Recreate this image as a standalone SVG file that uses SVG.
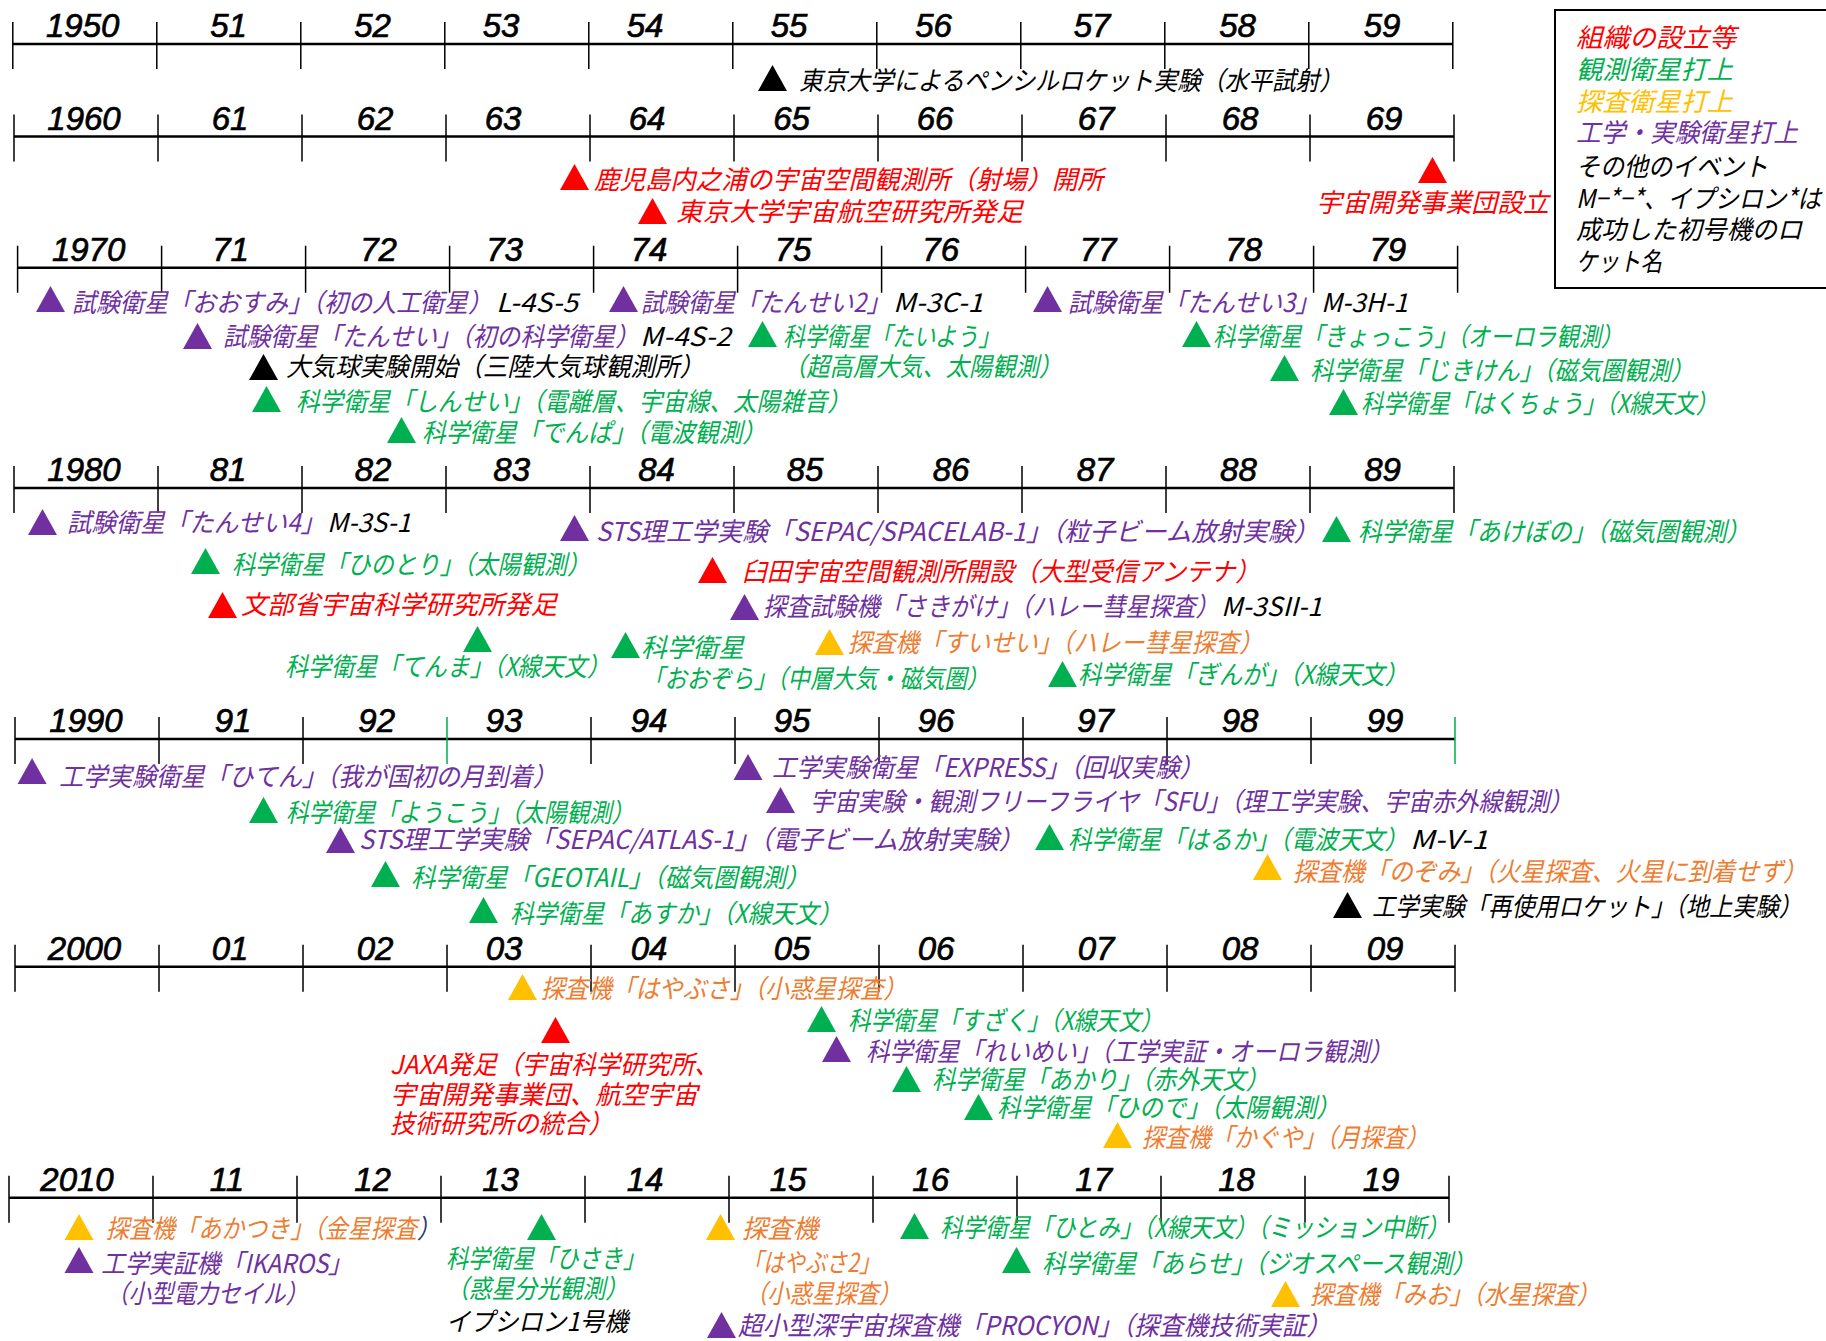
<svg xmlns="http://www.w3.org/2000/svg" xmlns:xlink="http://www.w3.org/1999/xlink" width="1826" height="1341" viewBox="0 0 1826 1341">
<style>
.yr{font-family:"Liberation Sans",Arial,sans-serif;font-style:italic;font-size:33px;text-anchor:middle;fill:#000;stroke:#000;stroke-width:0.7px}
.jp{font-family:"Noto Sans CJK JP","Noto Sans CJK SC",sans-serif;font-style:italic;font-size:26px}
.r{fill:#FF0000}.g{fill:#00B050}.o{fill:#ED7D31}.y{fill:#FFC000}.p{fill:#7030A0}.k{fill:#000}
.axis{stroke:#000;stroke-width:2.5}
.tick{stroke:#000;stroke-width:1.5}
.gt{stroke:#00B050;stroke-width:1.5}
</style>
<defs>
<path id="tri" d="M0 0L14.5 -26L29 0Z"/>
</defs>
<rect x="0" y="0" width="1826" height="1341" fill="#fff"/>

<g id="axes">
<line class="axis" x1="12.8" y1="44" x2="1452.8" y2="44"/>
<line class="axis" x1="14" y1="136.5" x2="1454" y2="136.5"/>
<line class="axis" x1="17.6" y1="267.7" x2="1457.6" y2="267.7"/>
<line class="axis" x1="14" y1="488" x2="1454" y2="488"/>
<line class="axis" x1="15" y1="739" x2="1455" y2="739"/>
<line class="axis" x1="15" y1="966.7" x2="1455" y2="966.7"/>
<line class="axis" x1="9" y1="1197.7" x2="1449" y2="1197.7"/>
</g>

<g id="row1950">
<path class="tick" d="M12.8 22v47M156.8 22v47M300.8 22v47M444.8 22v47M588.8 22v47M732.8 22v47M876.8 22v47M1020.8 22v47M1164.8 22v47M1308.8 22v47M1452.8 22v47"/>
<text class="yr" x="82.7" y="37">1950</text><text class="yr" x="228.5" y="37">51</text><text class="yr" x="372.6" y="37">52</text><text class="yr" x="501" y="37">53</text><text class="yr" x="645" y="37">54</text><text class="yr" x="789" y="37">55</text><text class="yr" x="933.5" y="37">56</text><text class="yr" x="1092" y="37">57</text><text class="yr" x="1237.5" y="37">58</text><text class="yr" x="1382" y="37">59</text>
</g>
<g id="row1960">
<path class="tick" d="M14 114.5v47M158 114.5v47M302 114.5v47M446 114.5v47M590 114.5v47M734 114.5v47M878 114.5v47M1022 114.5v47M1166 114.5v47M1310 114.5v47M1454 114.5v47"/>
<text class="yr" x="84" y="129.5">1960</text><text class="yr" x="230" y="129.5">61</text><text class="yr" x="375" y="129.5">62</text><text class="yr" x="503" y="129.5">63</text><text class="yr" x="647" y="129.5">64</text><text class="yr" x="791.5" y="129.5">65</text><text class="yr" x="935" y="129.5">66</text><text class="yr" x="1096" y="129.5">67</text><text class="yr" x="1240" y="129.5">68</text><text class="yr" x="1384" y="129.5">69</text>
</g>
<g id="row1970">
<path class="tick" d="M17.6 245.7v47M161.6 245.7v47M305.6 245.7v47M449.6 245.7v47M593.6 245.7v47M737.6 245.7v47M881.6 245.7v47M1025.6 245.7v47M1169.6 245.7v47M1313.6 245.7v47M1457.6 245.7v47"/>
<text class="yr" x="88.6" y="260.5">1970</text><text class="yr" x="230.6" y="260.5">71</text><text class="yr" x="378.5" y="260.5">72</text><text class="yr" x="504.6" y="260.5">73</text><text class="yr" x="649" y="260.5">74</text><text class="yr" x="793" y="260.5">75</text><text class="yr" x="940.7" y="260.5">76</text><text class="yr" x="1098" y="260.5">77</text><text class="yr" x="1243.7" y="260.5">78</text><text class="yr" x="1387.8" y="260.5">79</text>
</g>
<g id="row1980">
<path class="tick" d="M14 466v47M158 466v47M302 466v47M446 466v47M590 466v47M734 466v47M878 466v47M1022 466v47M1166 466v47M1310 466v47M1454 466v47"/>
<text class="yr" x="84" y="481">1980</text><text class="yr" x="228" y="481">81</text><text class="yr" x="373" y="481">82</text><text class="yr" x="511.7" y="481">83</text><text class="yr" x="656.6" y="481">84</text><text class="yr" x="805" y="481">85</text><text class="yr" x="951" y="481">86</text><text class="yr" x="1095" y="481">87</text><text class="yr" x="1238.4" y="481">88</text><text class="yr" x="1382.5" y="481">89</text>
</g>
<g id="row1990">
<path class="tick" d="M15 717v47M159 717v47M303 717v47M591 717v47M735 717v47M879 717v47M1023 717v47M1167 717v47M1311 717v47"/>
<path class="gt" d="M447 717v47M1455 717v47"/>
<text class="yr" x="86" y="732">1990</text><text class="yr" x="233" y="732">91</text><text class="yr" x="376.7" y="732">92</text><text class="yr" x="504" y="732">93</text><text class="yr" x="649" y="732">94</text><text class="yr" x="792" y="732">95</text><text class="yr" x="936" y="732">96</text><text class="yr" x="1095.5" y="732">97</text><text class="yr" x="1240" y="732">98</text><text class="yr" x="1385" y="732">99</text>
</g>
<g id="row2000">
<path class="tick" d="M15 944.7v47M159 944.7v47M303 944.7v47M447 944.7v47M591 944.7v47M735 944.7v47M879 944.7v47M1023 944.7v47M1167 944.7v47M1311 944.7v47M1455 944.7v47"/>
<text class="yr" x="84.5" y="959.5">2000</text><text class="yr" x="230" y="959.5">01</text><text class="yr" x="375" y="959.5">02</text><text class="yr" x="504" y="959.5">03</text><text class="yr" x="649" y="959.5">04</text><text class="yr" x="792" y="959.5">05</text><text class="yr" x="936" y="959.5">06</text><text class="yr" x="1096" y="959.5">07</text><text class="yr" x="1240" y="959.5">08</text><text class="yr" x="1385" y="959.5">09</text>
</g>
<g id="row2010">
<path class="tick" d="M9 1175.7v47M153 1175.7v47M297 1175.7v47M441 1175.7v47M585 1175.7v47M729 1175.7v47M873 1175.7v47M1017 1175.7v47M1161 1175.7v47M1305 1175.7v47M1449 1175.7v47"/>
<text class="yr" x="77" y="1190.5">2010</text><text class="yr" x="227" y="1190.5">11</text><text class="yr" x="372.6" y="1190.5">12</text><text class="yr" x="500.5" y="1190.5">13</text><text class="yr" x="645" y="1190.5">14</text><text class="yr" x="788" y="1190.5">15</text><text class="yr" x="930.7" y="1190.5">16</text><text class="yr" x="1093.7" y="1190.5">17</text><text class="yr" x="1236.6" y="1190.5">18</text><text class="yr" x="1381" y="1190.5">19</text>
</g>

<g id="legend">
<rect x="1555" y="10" width="290" height="278" fill="#fff" stroke="#000" stroke-width="2"/>
<text class="jp r" x="1576" y="47" textLength="160" lengthAdjust="spacingAndGlyphs">組織の設立等</text>
<text class="jp g" x="1576" y="79" textLength="157" lengthAdjust="spacingAndGlyphs">観測衛星打上</text>
<text class="jp y" x="1576" y="111" textLength="157" lengthAdjust="spacingAndGlyphs">探査衛星打上</text>
<text class="jp p" x="1576" y="142" textLength="222" lengthAdjust="spacingAndGlyphs">工学・実験衛星打上</text>
<text class="jp k" x="1576" y="176" textLength="192" lengthAdjust="spacingAndGlyphs">その他のイベント</text>
<text class="jp k" x="1576" y="207.5" textLength="245" lengthAdjust="spacingAndGlyphs">M−*−*、イプシロン*は</text>
<text class="jp k" x="1576" y="239" textLength="226" lengthAdjust="spacingAndGlyphs">成功した初号機のロ</text>
<text class="jp k" x="1576" y="271" textLength="86" lengthAdjust="spacingAndGlyphs">ケット名</text>
</g>

<g id="ev-pencil"><use href="#tri" x="758" y="91" class="k"/><text class="jp k" x="799" y="89.5" textLength="544" lengthAdjust="spacingAndGlyphs">東京大学によるペンシルロケット実験（水平試射）</text></g>
<g id="ev-uchinoura"><use href="#tri" x="560" y="190" class="r"/><text class="jp r" x="594" y="188.5" textLength="509" lengthAdjust="spacingAndGlyphs">鹿児島内之浦の宇宙空間観測所（射場）開所</text></g>
<g id="ev-isas-tokyo"><use href="#tri" x="638" y="224" class="r"/><text class="jp r" x="676" y="221" textLength="347" lengthAdjust="spacingAndGlyphs">東京大学宇宙航空研究所発足</text></g>
<g id="ev-nasda"><use href="#tri" x="1418" y="183" class="r"/><text class="jp r" x="1316" y="212" textLength="233" lengthAdjust="spacingAndGlyphs">宇宙開発事業団設立</text></g>

<g id="ev-ohsumi"><use href="#tri" x="36" y="312" class="p"/><text class="jp p" x="72" y="312" textLength="420" lengthAdjust="spacingAndGlyphs">試験衛星「おおすみ」（初の人工衛星）</text><text class="jp k" x="496" y="312" textLength="82" lengthAdjust="spacingAndGlyphs">L-4S-5</text></g>
<g id="ev-tansei2"><use href="#tri" x="609" y="312" class="p"/><text class="jp p" x="641" y="312" textLength="249" lengthAdjust="spacingAndGlyphs">試験衛星「たんせい2」</text><text class="jp k" x="893" y="312" textLength="90" lengthAdjust="spacingAndGlyphs">M-3C-1</text></g>
<g id="ev-tansei3"><use href="#tri" x="1033" y="312" class="p"/><text class="jp p" x="1068" y="312" textLength="251" lengthAdjust="spacingAndGlyphs">試験衛星「たんせい3」</text><text class="jp k" x="1321" y="312" textLength="87" lengthAdjust="spacingAndGlyphs">M-3H-1</text></g>
<g id="ev-tansei"><use href="#tri" x="183" y="349" class="p"/><text class="jp p" x="223" y="346" textLength="416" lengthAdjust="spacingAndGlyphs">試験衛星「たんせい」（初の科学衛星）</text><text class="jp k" x="640" y="346" textLength="91" lengthAdjust="spacingAndGlyphs">M-4S-2</text></g>
<g id="ev-taiyo"><use href="#tri" x="748" y="347" class="g"/><text class="jp g" x="783" y="346" textLength="217" lengthAdjust="spacingAndGlyphs">科学衛星「たいよう」</text><text class="jp g" x="783" y="376" textLength="279" lengthAdjust="spacingAndGlyphs">（超高層大気、太陽観測）</text></g>
<g id="ev-balloon"><use href="#tri" x="249" y="380" class="k"/><text class="jp k" x="286" y="376" textLength="418" lengthAdjust="spacingAndGlyphs">大気球実験開始（三陸大気球観測所）</text></g>
<g id="ev-shinsei"><use href="#tri" x="252" y="412" class="g"/><text class="jp g" x="296" y="411" textLength="555" lengthAdjust="spacingAndGlyphs">科学衛星「しんせい」（電離層、宇宙線、太陽雑音）</text></g>
<g id="ev-denpa"><use href="#tri" x="387" y="443" class="g"/><text class="jp g" x="422" y="442" textLength="344" lengthAdjust="spacingAndGlyphs">科学衛星「でんぱ」（電波観測）</text></g>
<g id="ev-kyokko"><use href="#tri" x="1182" y="347" class="g"/><text class="jp g" x="1213" y="346" textLength="410" lengthAdjust="spacingAndGlyphs">科学衛星「きょっこう」（オーロラ観測）</text></g>
<g id="ev-jikiken"><use href="#tri" x="1270" y="381" class="g"/><text class="jp g" x="1310" y="380" textLength="384" lengthAdjust="spacingAndGlyphs">科学衛星「じきけん」（磁気圏観測）</text></g>
<g id="ev-hakucho"><use href="#tri" x="1329" y="415" class="g"/><text class="jp g" x="1361" y="413" textLength="357" lengthAdjust="spacingAndGlyphs">科学衛星「はくちょう」（X線天文）</text></g>

<g id="ev-tansei4"><use href="#tri" x="28" y="535" class="p"/><text class="jp p" x="67" y="532" textLength="258" lengthAdjust="spacingAndGlyphs">試験衛星「たんせい4」</text><text class="jp k" x="327" y="532" textLength="84" lengthAdjust="spacingAndGlyphs">M-3S-1</text></g>
<g id="ev-spacelab"><use href="#tri" x="560" y="541" class="p"/><text class="jp p" x="596" y="541" textLength="723" lengthAdjust="spacingAndGlyphs">STS理工学実験「SEPAC/SPACELAB-1」（粒子ビーム放射実験）</text></g>
<g id="ev-akebono"><use href="#tri" x="1322" y="542" class="g"/><text class="jp g" x="1358" y="541" textLength="392" lengthAdjust="spacingAndGlyphs">科学衛星「あけぼの」（磁気圏観測）</text></g>
<g id="ev-hinotori"><use href="#tri" x="191" y="574" class="g"/><text class="jp g" x="232" y="574" textLength="358" lengthAdjust="spacingAndGlyphs">科学衛星「ひのとり」（太陽観測）</text></g>
<g id="ev-usuda"><use href="#tri" x="698" y="583" class="r"/><text class="jp r" x="742" y="581" textLength="518" lengthAdjust="spacingAndGlyphs">臼田宇宙空間観測所開設（大型受信アンテナ）</text></g>
<g id="ev-isas"><use href="#tri" x="208" y="618" class="r"/><text class="jp r" x="241" y="614" textLength="316" lengthAdjust="spacingAndGlyphs">文部省宇宙科学研究所発足</text></g>
<g id="ev-sakigake"><use href="#tri" x="730" y="620" class="p"/><text class="jp p" x="763" y="616" textLength="456" lengthAdjust="spacingAndGlyphs">探査試験機「さきがけ」（ハレー彗星探査）</text><text class="jp k" x="1221" y="616" textLength="101" lengthAdjust="spacingAndGlyphs">M-3SII-1</text></g>
<g id="ev-tenma"><use href="#tri" x="463" y="652" class="g"/><text class="jp g" x="285" y="676" textLength="325" lengthAdjust="spacingAndGlyphs">科学衛星「てんま」（X線天文）</text></g>
<g id="ev-ohzora"><use href="#tri" x="611" y="658" class="g"/><text class="jp g" x="641" y="657" textLength="103" lengthAdjust="spacingAndGlyphs">科学衛星</text><text class="jp g" x="642" y="688" textLength="347" lengthAdjust="spacingAndGlyphs">「おおぞら」（中層大気・磁気圏）</text></g>
<g id="ev-suisei"><use href="#tri" x="815" y="655" class="y"/><text class="jp o" x="848" y="652" textLength="415" lengthAdjust="spacingAndGlyphs">探査機「すいせい」（ハレー彗星探査）</text></g>
<g id="ev-ginga"><use href="#tri" x="1048" y="687" class="g"/><text class="jp g" x="1078" y="684" textLength="330" lengthAdjust="spacingAndGlyphs">科学衛星「ぎんが」（X線天文）</text></g>

<g id="ev-hiten"><use href="#tri" x="17.6" y="784" class="p"/><text class="jp p" x="59" y="786" textLength="498" lengthAdjust="spacingAndGlyphs">工学実験衛星「ひてん」（我が国初の月到着）</text></g>
<g id="ev-express"><use href="#tri" x="733.5" y="780" class="p"/><text class="jp p" x="772" y="777" textLength="432" lengthAdjust="spacingAndGlyphs">工学実験衛星「EXPRESS」（回収実験）</text></g>
<g id="ev-sfu"><use href="#tri" x="766" y="813" class="p"/><text class="jp p" x="810" y="811" textLength="763" lengthAdjust="spacingAndGlyphs">宇宙実験・観測フリーフライヤ「SFU」（理工学実験、宇宙赤外線観測）</text></g>
<g id="ev-yohkoh"><use href="#tri" x="249" y="823" class="g"/><text class="jp g" x="286" y="822" textLength="348" lengthAdjust="spacingAndGlyphs">科学衛星「ようこう」（太陽観測）</text></g>
<g id="ev-atlas"><use href="#tri" x="326" y="853" class="p"/><text class="jp p" x="359" y="849" textLength="665" lengthAdjust="spacingAndGlyphs">STS理工学実験「SEPAC/ATLAS-1」（電子ビーム放射実験）</text></g>
<g id="ev-haruka"><use href="#tri" x="1035" y="850" class="g"/><text class="jp g" x="1068" y="849" textLength="340" lengthAdjust="spacingAndGlyphs">科学衛星「はるか」（電波天文）</text><text class="jp k" x="1410" y="849" textLength="78" lengthAdjust="spacingAndGlyphs">M-V-1</text></g>
<g id="ev-nozomi"><use href="#tri" x="1253" y="880" class="y"/><text class="jp o" x="1293" y="881" textLength="514" lengthAdjust="spacingAndGlyphs">探査機「のぞみ」（火星探査、火星に到着せず）</text></g>
<g id="ev-geotail"><use href="#tri" x="371" y="887" class="g"/><text class="jp g" x="411" y="887" textLength="399" lengthAdjust="spacingAndGlyphs">科学衛星「GEOTAIL」（磁気圏観測）</text></g>
<g id="ev-asuka"><use href="#tri" x="469" y="923" class="g"/><text class="jp g" x="510" y="923" textLength="332" lengthAdjust="spacingAndGlyphs">科学衛星「あすか」（X線天文）</text></g>
<g id="ev-reusable"><use href="#tri" x="1333" y="918" class="k"/><text class="jp k" x="1372" y="916" textLength="430" lengthAdjust="spacingAndGlyphs">工学実験「再使用ロケット」（地上実験）</text></g>

<g id="ev-hayabusa"><use href="#tri" x="508" y="1000" class="y"/><text class="jp o" x="541" y="998" textLength="366" lengthAdjust="spacingAndGlyphs">探査機「はやぶさ」（小惑星探査）</text></g>
<g id="ev-jaxa"><use href="#tri" x="541" y="1043" class="r"/><text class="jp r" x="390" y="1074" textLength="329" lengthAdjust="spacingAndGlyphs">JAXA発足（宇宙科学研究所、</text><text class="jp r" x="390" y="1104" textLength="308" lengthAdjust="spacingAndGlyphs">宇宙開発事業団、航空宇宙</text><text class="jp r" x="390" y="1133" textLength="223" lengthAdjust="spacingAndGlyphs">技術研究所の統合）</text></g>
<g id="ev-suzaku"><use href="#tri" x="807" y="1032" class="g"/><text class="jp g" x="848" y="1030" textLength="315" lengthAdjust="spacingAndGlyphs">科学衛星「すざく」（X線天文）</text></g>
<g id="ev-reimei"><use href="#tri" x="822" y="1062" class="p"/><text class="jp p" x="866" y="1061" textLength="527" lengthAdjust="spacingAndGlyphs">科学衛星「れいめい」（工学実証・オーロラ観測）</text></g>
<g id="ev-akari"><use href="#tri" x="892" y="1092" class="g"/><text class="jp g" x="932" y="1089" textLength="337" lengthAdjust="spacingAndGlyphs">科学衛星「あかり」（赤外天文）</text></g>
<g id="ev-hinode"><use href="#tri" x="964" y="1120" class="g"/><text class="jp g" x="997" y="1117" textLength="343" lengthAdjust="spacingAndGlyphs">科学衛星「ひので」（太陽観測）</text></g>
<g id="ev-kaguya"><use href="#tri" x="1103" y="1148" class="y"/><text class="jp o" x="1142" y="1147" textLength="287" lengthAdjust="spacingAndGlyphs">探査機「かぐや」（月探査）</text></g>

<g id="ev-akatsuki"><use href="#tri" x="64.5" y="1240" class="y"/><text class="jp o" x="106" y="1238" textLength="334" lengthAdjust="spacingAndGlyphs">探査機「あかつき」（金星探査<tspan fill="#1F3864">）</tspan></text></g>
<g id="ev-ikaros"><use href="#tri" x="64.5" y="1273" class="p"/><text class="jp p" x="101" y="1273" textLength="251" lengthAdjust="spacingAndGlyphs">工学実証機「IKAROS」</text><text class="jp p" x="106" y="1303" textLength="202" lengthAdjust="spacingAndGlyphs">（小型電力セイル）</text></g>
<g id="ev-hisaki"><use href="#tri" x="527" y="1240" class="g"/><text class="jp g" x="446" y="1268" textLength="199" lengthAdjust="spacingAndGlyphs">科学衛星「ひさき」</text><text class="jp g" x="446" y="1298" textLength="182" lengthAdjust="spacingAndGlyphs">（惑星分光観測）</text><text class="jp k" x="446" y="1331" textLength="182" lengthAdjust="spacingAndGlyphs">イプシロン1号機</text></g>
<g id="ev-hayabusa2"><use href="#tri" x="706" y="1240" class="y"/><text class="jp o" x="742" y="1238" textLength="76" lengthAdjust="spacingAndGlyphs">探査機</text><text class="jp o" x="742" y="1272" textLength="138" lengthAdjust="spacingAndGlyphs">「はやぶさ2」</text><text class="jp o" x="745" y="1303" textLength="156" lengthAdjust="spacingAndGlyphs">（小惑星探査）</text></g>
<g id="ev-procyon"><use href="#tri" x="707" y="1338" class="p"/><text class="jp p" x="738" y="1335" textLength="593" lengthAdjust="spacingAndGlyphs">超小型深宇宙探査機「PROCYON」（探査機技術実証）</text></g>
<g id="ev-hitomi"><use href="#tri" x="900" y="1239" class="g"/><text class="jp g" x="940" y="1237" textLength="509" lengthAdjust="spacingAndGlyphs">科学衛星「ひとみ」（X線天文）（ミッション中断）</text></g>
<g id="ev-arase"><use href="#tri" x="1002" y="1273" class="g"/><text class="jp g" x="1042" y="1273" textLength="434" lengthAdjust="spacingAndGlyphs">科学衛星「あらせ」（ジオスペース観測）</text></g>
<g id="ev-mio"><use href="#tri" x="1271" y="1307" class="y"/><text class="jp o" x="1310" y="1304" textLength="290" lengthAdjust="spacingAndGlyphs">探査機「みお」（水星探査）</text></g>
</svg>
